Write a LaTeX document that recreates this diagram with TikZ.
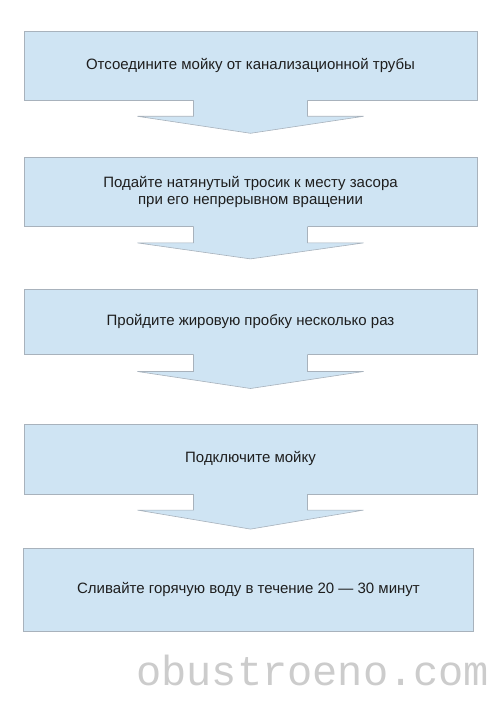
\documentclass[tikz,border=0pt]{standalone}
\usepackage{fontspec}
\setmainfont{Liberation Sans}
\newfontfamily\wmfont{Liberation Mono}
\usetikzlibrary{positioning, calc}
\definecolor{boxblue}{RGB}{207,228,243}
\definecolor{boxline}{RGB}{168,178,188}
\definecolor{txtgray}{RGB}{30,30,30}
\tikzstyle{stepbox} = [rectangle, minimum width=453pt, draw=boxline, fill=boxblue, line width=0.6pt,
                       text=txtgray, font=\fontsize{15}{16.5}\selectfont, align=center, inner sep=0pt]
\tikzstyle{arrowfill} = [fill=boxblue]
\tikzstyle{arrowline} = [draw=boxline, line width=0.6pt]
% block arrow under a box: #1 box, #2 stem length, #3 tip depth
\newcommand{\blockarrow}[3]{%
  \fill[arrowfill] ($(#1.south)+(-57,1)$) -- ($(#1.south)+(-57,-#2)$) -- ($(#1.south)+(-113,-#2)$)
    -- ($(#1.south)+(0,-#3)$) -- ($(#1.south)+(113,-#2)$) -- ($(#1.south)+(57,-#2)$) -- ($(#1.south)+(57,1)$) -- cycle;
  \draw[arrowline] ($(#1.south)+(-57,0)$) -- ($(#1.south)+(-57,-#2)$) -- ($(#1.south)+(-113,-#2)$)
    -- ($(#1.south)+(0,-#3)$) -- ($(#1.south)+(113,-#2)$) -- ($(#1.south)+(57,-#2)$) -- ($(#1.south)+(57,0)$);}

\begin{document}
\begin{tikzpicture}[x=1pt, y=1pt]
    \fill[white] (0,0) rectangle (500,-708);
    \useasboundingbox (0,0) rectangle (500,-708);

    % Step boxes
    \node[stepbox, minimum height=69pt] (s1) at (250.5,-65.5) {Отсоедините мойку от канализационной трубы};
    \node[stepbox, minimum height=69pt, below=57pt of s1] (s2) {Подайте натянутый тросик к месту засора\\при его непрерывном вращении};
    \node[stepbox, minimum height=65pt, below=62pt of s2] (s3) {Пройдите жировую пробку несколько раз};
    \node[stepbox, minimum height=70pt, below=69pt of s3] (s4) {Подключите мойку};
    \node[stepbox, minimum height=83pt, minimum width=450pt, below=54pt of s4, xshift=-2pt] (s5) {Сливайте горячую воду в течение 20 — 30 минут};

    % Arrows
    \blockarrow{s1}{16}{33}
    \blockarrow{s2}{16}{32}
    \blockarrow{s3}{17}{34}
    \blockarrow{s4}{16}{35}

    % Watermark
    \node[anchor=base west, font=\wmfont\fontsize{42}{42}\selectfont, text=black!20, inner sep=0pt] (wm) at (136,-685) {obustroeno.com};
\end{tikzpicture}
\end{document}
